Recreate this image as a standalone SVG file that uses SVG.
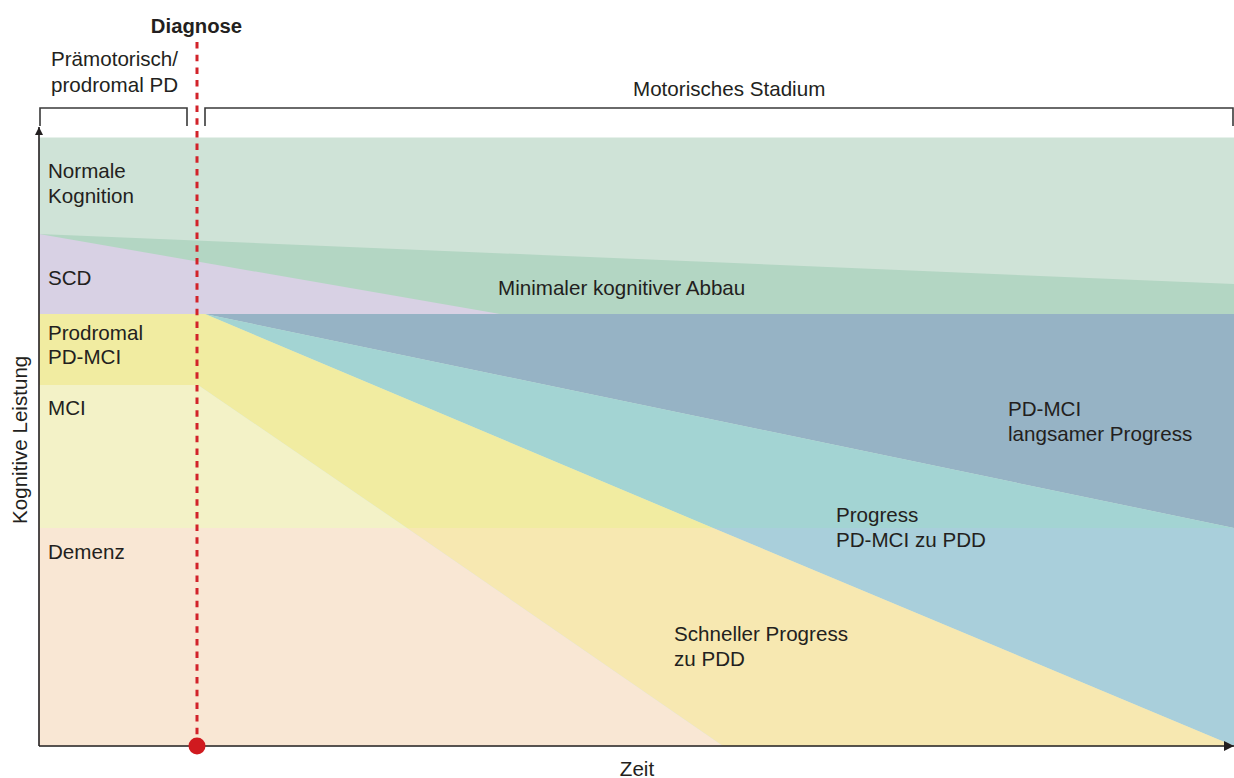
<svg xmlns="http://www.w3.org/2000/svg" width="1234" height="778" viewBox="0 0 1234 778">
  <defs>
    <marker id="arrow" viewBox="0 0 10 10" refX="10" refY="5" markerWidth="8" markerHeight="8" markerUnits="userSpaceOnUse" orient="auto">
      <path d="M0,0 L10,5 L0,10 z" fill="#231f20"/>
    </marker>
    <marker id="arrowX" viewBox="0 0 10 10" refX="10" refY="5" markerWidth="14" markerHeight="10" markerUnits="userSpaceOnUse" orient="auto">
      <path d="M0,0 L10,5 L0,10 z" fill="#231f20"/>
    </marker>
    <style>
      text { font-family: "Liberation Sans", Arial, sans-serif; font-size: 20.6px; fill: #231f20; }
      .bold { font-weight: bold; font-size: 20.3px; }
      .mid { text-anchor: middle; }
      .axis { stroke: #231f20; stroke-width: 1.6; fill: none; }
      .bracket { stroke: #3a3a3a; stroke-width: 1.6; fill: none; }
    </style>
  </defs>
  <rect width="1234" height="778" fill="#ffffff"/>

  <!-- cognitive performance regions -->
  <g id="regions">
    <rect id="normal" x="39" y="137.5" width="1195" height="609" fill="#cfe3d7"/>
    <polygon id="minimal-decline" points="39,234 1234,284 1234,314 39,314" fill="#b3d6c3"/>
    <polygon id="scd" points="39,234 500,314 39,314" fill="#d8d1e4"/>
    <polygon id="slow-progress" points="205,314 1234,314 1234,528" fill="#96b3c5"/>
    <polygon id="progress-upper" points="205,314 1234,528 713,528" fill="#a3d4d3"/>
    <polygon id="progress-lower" points="713,528 1234,528 1234,746" fill="#a9cfdb"/>
    <polygon id="prodromal" points="39,314 205,314 713,528 407,528 198,385 39,385" fill="#f1eca1"/>
    <polygon id="mci" points="39,385 198,385 407,528 39,528" fill="#f3f2c7"/>
    <polygon id="fast-progress" points="407,528 713,528 1234,746 723,746" fill="#f7e8b1"/>
    <polygon id="dementia" points="39,528 407,528 723,746 39,746" fill="#f9e7d4"/>
  </g>

  <!-- axes and stage brackets -->
  <g id="connectors">
    <line class="axis" x1="39" y1="746" x2="39" y2="127" marker-end="url(#arrow)"/>
    <line class="axis" x1="39" y1="746" x2="1234" y2="746" marker-end="url(#arrowX)"/>
    <polyline class="bracket" points="40,126 40,108 187,108 187,126"/>
    <polyline class="bracket" points="205,126 205,108 1233,108 1233,126"/>
    <line x1="197" y1="42" x2="197" y2="746" stroke="#d2232a" stroke-width="3" stroke-dasharray="6.5,6.2"/>
    <circle cx="197" cy="746" r="8.5" fill="#d01a1f"/>
  </g>

  <!-- headings -->
  <g id="headings">
    <text class="bold mid" x="196.5" y="33">Diagnose</text>
    <text x="51" y="66">Prämotorisch/</text>
    <text x="51" y="92">prodromal PD</text>
    <text x="633" y="96">Motorisches Stadium</text>
    <text class="mid" x="637" y="776">Zeit</text>
    <text transform="translate(26.5,524) rotate(-90)">Kognitive Leistung</text>
  </g>

  <!-- stage labels -->
  <g id="label-normal"><text x="48" y="178">Normale</text><text x="48" y="203">Kognition</text></g>
  <g id="label-scd"><text x="48" y="285">SCD</text></g>
  <g id="label-prodromal"><text x="48" y="340">Prodromal</text><text x="48" y="364">PD-MCI</text></g>
  <g id="label-mci"><text x="48" y="415">MCI</text></g>
  <g id="label-dementia"><text x="48" y="559">Demenz</text></g>
  <g id="label-minimal"><text x="498" y="295">Minimaler kognitiver Abbau</text></g>
  <g id="label-slow"><text x="1008" y="416">PD-MCI</text><text x="1008" y="441">langsamer Progress</text></g>
  <g id="label-progress"><text x="836" y="522">Progress</text><text x="836" y="547">PD-MCI zu PDD</text></g>
  <g id="label-fast"><text x="674" y="641">Schneller Progress</text><text x="674" y="666">zu PDD</text></g>
</svg>
